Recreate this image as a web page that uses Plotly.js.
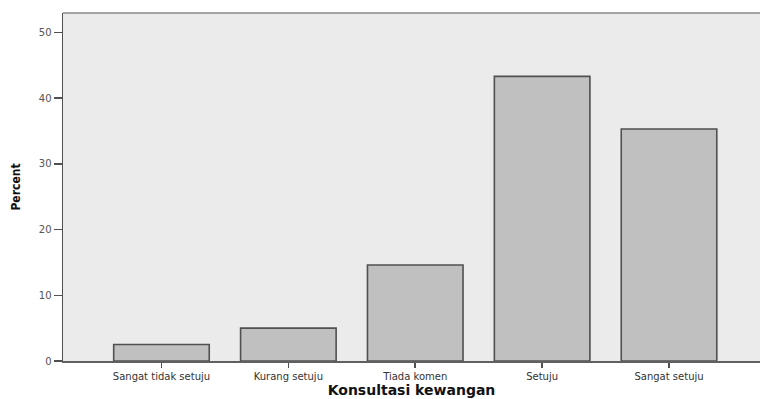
<!DOCTYPE html>
<html>
<head>
<meta charset="utf-8">
<script src="https://cdn.plot.ly/plotly-3.0.1.min.js"></script>
<style>
html,body{margin:0;padding:0;background:#fff;}
#chart{width:760px;height:399px;}
</style>
</head>
<body>
<div id="chart"></div>
<script>
const categories = ["Sangat tidak setuju", "Kurang setuju", "Tiada komen", "Setuju", "Sangat setuju"];
const percentValues = [2.5, 5.0, 14.6, 43.3, 35.3];
const yTickValues = [0, 10, 20, 30, 40, 50];
const xTitle = "Konsultasi kewangan";
const yTitle = "Percent";

const trace = {
  type: "bar",
  x: categories,
  y: percentValues,
  width: 0.753,
  marker: {color: "#c0c0c0", line: {color: "#505050", width: 1.6}},
  hoverinfo: "x+y"
};

const layout = {
  width: 760, height: 399,
  margin: {l: 63, r: 0, t: 13, b: 38},
  paper_bgcolor: "#ffffff",
  plot_bgcolor: "#ebebeb",
  showlegend: false,
  bargap: 0.25,
  xaxis: {
    type: "category",
    range: [-0.776, 4.717],
    showgrid: false, zeroline: false,
    showline: true, linecolor: "#606060", linewidth: 1.5,
    ticks: "outside", ticklen: 5, tickcolor: "#505050", tickwidth: 1.5,
    tickfont: {family: "DejaVu Sans, Liberation Sans, Arial, sans-serif", size: 10, color: "#333"},
    title: {text: xTitle, standoff: 4, font: {family: "DejaVu Sans, Liberation Sans, Arial, sans-serif", size: 14, color: "#111", weight: "bold"}},
    fixedrange: true
  },
  yaxis: {
    range: [0, 52.94],
    tickvals: yTickValues,
    showgrid: false, zeroline: false,
    showline: true, linecolor: "#505050", linewidth: 1.5,
    ticks: "outside", ticklen: 8, tickcolor: "#505050", tickwidth: 1.5,
    tickfont: {family: "DejaVu Sans, Liberation Sans, Arial, sans-serif", size: 10, color: "#555"},
    title: {text: yTitle, standoff: 15, font: {family: "DejaVu Sans Condensed, Liberation Sans Narrow, Arial Narrow, sans-serif", size: 12, color: "#111", weight: "bold"}},
    fixedrange: true
  },
  shapes: [
    {type: "line", xref: "paper", yref: "paper", x0: 0, x1: 1, y0: 1, y1: 1, line: {color: "#8a8a8a", width: 1.5}}
  ]
};

Plotly.newPlot("chart", [trace], layout, {displayModeBar: false, staticPlot: true});
</script>
</body>
</html>
